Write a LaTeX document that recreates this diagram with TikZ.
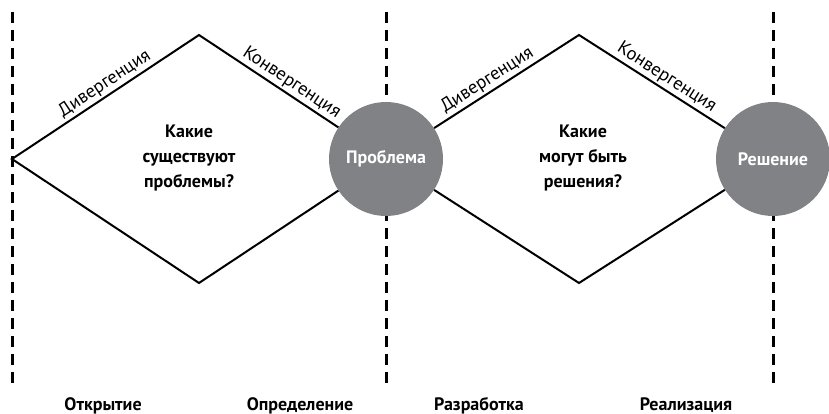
\documentclass[tikz,border=0pt]{standalone}
\usepackage{fontspec}
\setmainfont{PT Sans}
\usetikzlibrary{positioning}
\definecolor{stagegray}{RGB}{128,130,133}
\tikzset{
	phase line/.style={
		line width=3pt,
		dash pattern=on 11pt off 7pt
	},
	diamond line/.style={
		line width=2pt,
		line join=miter
	},
	stage/.style={
		circle,
		fill=stagegray,
		minimum size=114pt,
		inner sep=0pt,
		text=white,
		font=\fontsize{18}{20}\selectfont\bfseries
	},
	edge label/.style={
		sloped,
		above,
		inner sep=2pt,
		font=\fontsize{18.5}{20}\selectfont
	},
	question/.style={
		align=center,
		font=\fontsize{18}{25}\selectfont\bfseries
	},
	phase/.style={
		anchor=base,
		font=\fontsize{18}{20}\selectfont\bfseries
	}
}
\begin{document}
\begin{tikzpicture}[x=1pt,y=-1pt]
	\useasboundingbox (0,0) rectangle (829,414);
	% phase borders
	\foreach \x in {12,386,773}
		\draw[phase line] (\x,12) -- (\x,383);
	% stages
	\node[stage] (problem) at (386,159) {Проблема};
	\node[stage] (solution) at (773,159) {Решение};
	% first diamond
	\coordinate (left1) at (12,159);
	\coordinate (top1) at (199,35);
	\coordinate (bottom1) at (199,283);
	\draw[diamond line] (problem) -- (bottom1) -- (left1)
		-- node[edge label,pos=0.53] {Дивергенция} (top1)
		-- node[edge label,pos=0.62] {Конвергенция} (problem);
	% second diamond
	\coordinate (top2) at (579,35);
	\coordinate (bottom2) at (579,283);
	\draw[diamond line] (solution) -- (bottom2) -- (problem)
		-- node[edge label,pos=0.41] {Дивергенция} (top2)
		-- node[edge label,pos=0.56] {Конвергенция} (solution);
	% questions
	\node[question] (q1) at (189,158) {Какие\\существуют\\проблемы?};
	\node[question] (q2) at (583,158) {Какие\\могут быть\\решения?};
	% phases
	\node[phase] (discover) at (103,410) {Открытие};
	\node[phase] (define) at (300,410) {Определение};
	\node[phase] (develop) at (479,410) {Разработка};
	\node[phase] (deliver) at (686,410) {Реализация};
\end{tikzpicture}
\end{document}
